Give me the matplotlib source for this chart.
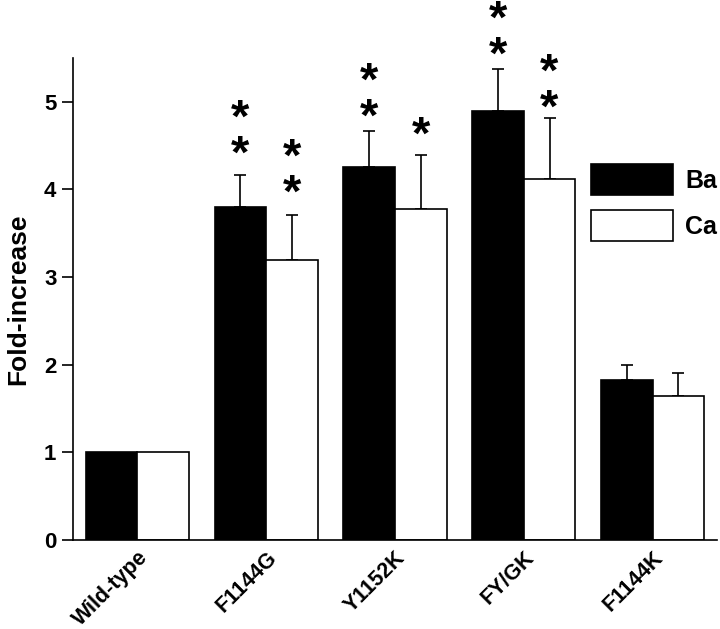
import matplotlib
matplotlib.use("Agg")
import matplotlib.pyplot as plt
import matplotlib.transforms as mtransforms
import numpy as np
from matplotlib.patches import Patch

plt.rcParams['font.family'] = ['Liberation Sans', 'DejaVu Sans']
plt.rcParams['font.weight'] = 'bold'

categories = ["Wild-type", "F1144G", "Y1152K", "FY/GK", "F1144K"]
ba_values = [1.0, 3.80, 4.26, 4.89, 1.83]
ba_err = [0.0, 0.37, 0.41, 0.48, 0.17]
ca_values = [1.0, 3.20, 3.78, 4.12, 1.64]
ca_err = [0.0, 0.51, 0.61, 0.69, 0.27]
# significance asterisks: count and height (data units) of lowest asterisk
ba_stars = [0, 2, 2, 2, 0]
ba_star_y = [0, 4.49, 4.91, 5.62, 0]
ca_stars = [0, 2, 1, 2, 0]
ca_star_y = [0, 4.04, 4.70, 5.01, 0]
series_labels = ["Ba", "Ca"]
yticks = [0, 1, 2, 3, 4, 5]

fig = plt.figure(figsize=(7.2, 6.29), dpi=100)
ax = fig.add_axes([73/720, 1-540/629, (717-73)/720, (540-58)/629])

x = np.arange(len(categories))
w = 0.4
lw = 1.2
ax.bar(x - w/2, ba_values, w, color='black', edgecolor='black', linewidth=lw, zorder=2)
ax.bar(x + w/2, ca_values, w, color='white', edgecolor='black', linewidth=lw, zorder=2)

for xs, vals, errs in [(x - w/2, ba_values, ba_err), (x + w/2, ca_values, ca_err)]:
    for xi, v, e in zip(xs, vals, errs):
        if e > 0:
            ax.errorbar([xi], [v], yerr=[[0], [e]], fmt='none', ecolor='black',
                        elinewidth=1.2, capsize=4, capthick=1.2, zorder=1)

pitch = 0.40
ink_shift = 0.097
def put_stars(xs, counts, lows):
    for xi, n, low in zip(xs, counts, lows):
        if n == 0:
            continue
        mid = low + pitch * (n - 1) / 2
        ax.text(xi, mid - ink_shift, "\n".join(["*"] * n), ha='center', va='center',
                fontsize=34, fontweight='bold', linespacing=0.76, clip_on=False)

put_stars(x - w/2, ba_stars, ba_star_y)
put_stars(x + w/2, ca_stars, ca_star_y)

ax.set_xlim(-0.5, 4.5)
ax.set_ylim(0, 5.5)
ax.set_yticks(yticks)
ax.set_yticklabels([str(t) for t in yticks], fontsize=16, fontweight='bold')
ax.set_xticks(x)
ax.set_xticklabels(categories, rotation=45, ha='right', rotation_mode='anchor',
                   fontsize=15.5, fontweight='bold')
offset = mtransforms.ScaledTranslation(7/72, 0, fig.dpi_scale_trans)
for lab in ax.get_xticklabels():
    lab.set_transform(lab.get_transform() + offset)
ax.tick_params(axis='y', direction='out', length=8, width=1.2, pad=4)
ax.tick_params(axis='x', length=0, pad=5)
for s in ['top', 'right']:
    ax.spines[s].set_visible(False)
for s in ['left', 'bottom']:
    ax.spines[s].set_linewidth(1.2)
ax.set_ylabel("Fold-increase", fontsize=19, fontweight='bold', labelpad=10)

handles = [Patch(facecolor='black', edgecolor='black', linewidth=1.2),
           Patch(facecolor='white', edgecolor='black', linewidth=1.2)]
ax.legend(handles, series_labels, loc='upper left', bbox_to_anchor=(591/720, 1-164/629),
          bbox_transform=fig.transFigure, frameon=False,
          handlelength=3.28, handleheight=1.5, labelspacing=0.62, handletextpad=0.5,
          borderpad=0, borderaxespad=0, prop={'weight': 'bold', 'size': 18})

fig.savefig("out.png", dpi=100)
